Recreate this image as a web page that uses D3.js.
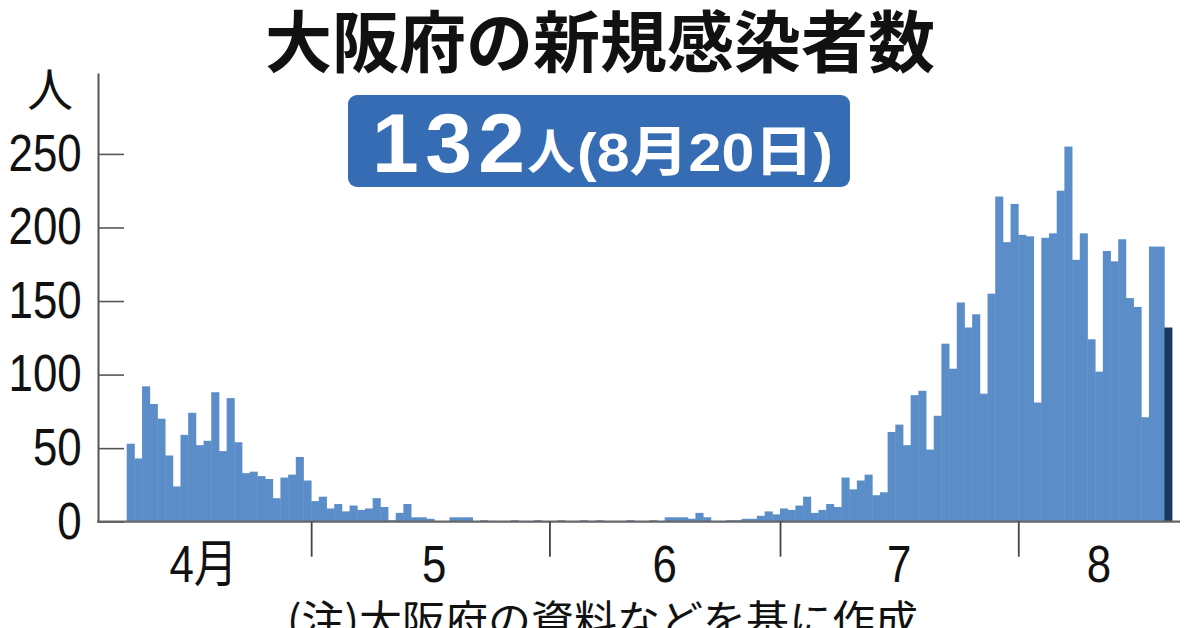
<!DOCTYPE html>
<meta charset="utf-8">
<style>
body { margin: 0; background: #fff; }
svg { display: block; }
</style>
<body>
<script src="https://cdn.jsdelivr.net/npm/d3@7"></script>
<script>
var width = 1200
var height = 628

// daily new cases in Osaka, from 2020-04-07 to 2020-08-20
var startDay = '2020-04-07 00'
var cases = [
    53, 43, 92, 80, 70, 45, 24, 59, 74, 52, 55, 88, 48, 84, 54, 33, 34, 31, 29, 16, 30, 32, 44, 28,
    14, 17, 9, 12, 7, 11, 8, 9, 16, 10, 1, 6, 12, 3, 3, 2, 0, 0, 3, 3, 3, 0, 1, 0, 0, 0, 1, 0, 0, 1, 0,
    0, 1, 0, 0, 1, 0, 1, 0, 0, 0, 1, 0, 0, 1, 0, 3, 3, 3, 2, 6, 3, 0, 0, 1, 1, 2, 2, 4, 7, 5,
    9, 8, 11, 17, 6, 8, 12, 10, 30, 22, 28, 32, 18, 20, 61, 66, 52, 86, 89, 49, 72, 121, 104, 149, 132, 141, 87, 155, 221, 190, 216,
    195, 194, 81, 193, 196, 225, 255, 178, 196, 124, 102, 184, 177, 192, 152, 146, 71, 187, 187, 132
]
var yTicks = [0, 50, 100, 150, 200, 250]
var monthStarts = ['2020-05-01 00', '2020-06-01 00', '2020-07-01 00', '2020-08-01 00']
var monthNames = ['4月', '5', '6', '7', '8']
var monthLabelDays = ['2020-04-17 00', '2020-05-17 00', '2020-06-16 00', '2020-07-16 12', '2020-08-11 12']

var title = '大阪府の新規感染者数'
var latestValue = '132'
var latestUnit = '人'
var latestDate = '(8月20日)'
var note = '(注)大阪府の資料などを基に作成'

var parse = d3.timeParse('%Y-%m-%d %H')
var start = parse(startDay)
var days = cases.map(function (v, i) { return { date: d3.timeDay.offset(start, i), value: v, last: i === cases.length - 1 } })

var x = d3.scaleTime()
    .domain([start, d3.timeDay.offset(start, cases.length)])
    .range([126.7, 1172])

var y = d3.scaleLinear()
    .domain([0, 305])
    .range([521.7, 73])

var svg = d3.select('body').append('svg')
    .attr('width', width)
    .attr('height', height)

var numFont = '"Liberation Sans", Arial, "Noto Sans CJK JP", sans-serif'
var jpFont = '"Noto Sans CJK JP", sans-serif'

// title
svg.append('text')
    .attr('x', 600)
    .attr('y', 67)
    .attr('text-anchor', 'middle')
    .style('font-family', jpFont)
    .style('font-weight', 700)
    .style('font-size', '67px')
    .attr('fill', '#111')
    .text(title)

// badge
svg.append('rect')
    .attr('x', 348)
    .attr('y', 95)
    .attr('width', 502)
    .attr('height', 92)
    .attr('rx', 9)
    .attr('fill', '#356cb3')

svg.append('text')
    .attr('x', 372)
    .attr('y', 172)
    .attr('textLength', 153)
    .attr('lengthAdjust', 'spacing')
    .style('font-family', numFont)
    .style('font-weight', 700)
    .style('font-size', '84px')
    .attr('fill', '#fff')
    .text(latestValue)

svg.append('text')
    .attr('x', 527)
    .attr('y', 169)
    .attr('textLength', 46)
    .style('font-family', jpFont)
    .style('font-weight', 700)
    .style('font-size', '48px')
    .attr('fill', '#fff')
    .text(latestUnit)

svg.append('text')
    .attr('x', 577)
    .attr('y', 171)
    .attr('textLength', 256)
    .attr('lengthAdjust', 'spacingAndGlyphs')
    .style('font-family', numFont)
    .style('font-weight', 700)
    .style('font-size', '54px')
    .attr('fill', '#fff')
    .text(latestDate)

// bars
svg.append('g')
    .selectAll('rect')
    .data(days)
    .enter().append('rect')
    .attr('x', function (d) { return x(d.date) })
    .attr('y', function (d) { return y(d.value) })
    .attr('width', function (d) { return x(d3.timeDay.offset(d.date, 1)) - x(d.date) + 0.4 })
    .attr('height', function (d) { return y(0) - y(d.value) })
    .attr('fill', function (d) { return d.last ? '#17395f' : '#5b8ec9' })

// y axis
var yAxis = svg.append('g')
    .attr('transform', 'translate(98,0)')
    .call(d3.axisLeft(y)
        .tickValues(yTicks)
        .tickSize(-26)
        .tickSizeOuter(0)
        .tickPadding(19))

yAxis.select('.domain').attr('stroke', '#555').attr('stroke-width', 2)
yAxis.selectAll('.tick line').attr('stroke', '#555').attr('stroke-width', 1.6)
yAxis.selectAll('.tick text')
    .attr('transform', 'scale(0.86,1)')
    .style('font-family', numFont)
    .style('font-size', '51px')
    .attr('fill', '#111')

svg.append('text')
    .attr('x', 50)
    .attr('y', 106)
    .attr('text-anchor', 'middle')
    .style('font-family', jpFont)
    .style('font-size', '46px')
    .attr('fill', '#111')
    .text('人')

// x axis
svg.append('line')
    .attr('x1', 97)
    .attr('x2', 1180)
    .attr('y1', y(0))
    .attr('y2', y(0))
    .attr('stroke', '#666')
    .attr('stroke-width', 2.2)

var xAxis = svg.append('g')
    .attr('transform', 'translate(0,' + y(0) + ')')
    .call(d3.axisBottom(x)
        .tickValues(monthStarts.map(parse))
        .tickSize(35)
        .tickFormat(''))

xAxis.select('.domain').remove()
xAxis.selectAll('.tick line').attr('stroke', '#444').attr('stroke-width', 1.8)

svg.append('g')
    .selectAll('text')
    .data(monthNames)
    .enter().append('text')
    .attr('transform', function (d, i) { return 'translate(' + x(parse(monthLabelDays[i])) + ',582) scale(0.86,1)' })
    .attr('text-anchor', 'middle')
    .style('font-family', numFont)
    .style('font-size', '51px')
    .attr('fill', '#111')
    .text(function (d) { return d })

// note
svg.append('text')
    .attr('x', 287)
    .attr('y', 636)
    .attr('textLength', 631)
    .attr('lengthAdjust', 'spacingAndGlyphs')
    .style('font-family', jpFont)
    .style('font-size', '42px')
    .attr('fill', '#111')
    .text(note)
</script>
</body>
